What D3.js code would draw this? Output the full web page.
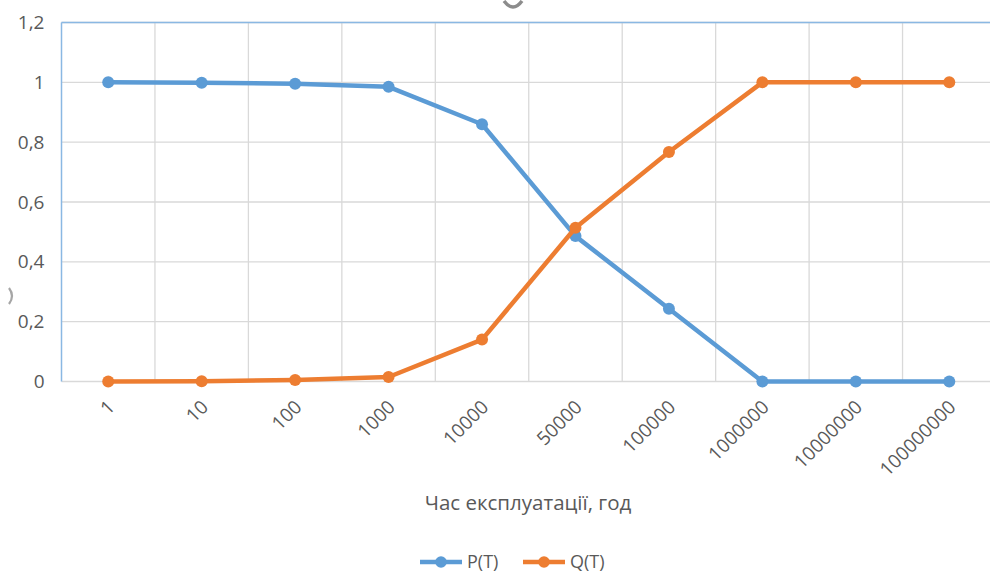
<!DOCTYPE html>
<html>
<head>
<meta charset="utf-8">
<script src="https://cdn.jsdelivr.net/npm/d3@7"></script>
<style>
  html, body { margin: 0; padding: 0; background: #fff; }
  svg { display: block; font-family: "Open Sans", "Liberation Sans", sans-serif; }
</style>
</head>
<body>
<svg id="chart" width="990" height="573"></svg>
<script>
// Operating time categories (hours)
const categories = ["1", "10", "100", "1000", "10000", "50000", "100000", "1000000", "10000000", "100000000"];
// Reliability P(T) and failure probability Q(T)
const pValues = [1.0, 0.999, 0.995, 0.985, 0.86, 0.486, 0.243, 0, 0, 0];
const qValues = [0.0, 0.001, 0.005, 0.015, 0.14, 0.514, 0.767, 1, 1, 1];
const yTicks = [0, 0.2, 0.4, 0.6, 0.8, 1, 1.2];
const seriesNames = ["P(T)", "Q(T)"];
const seriesColors = ["#5B9BD5", "#ED7D31"];
const xTitle = "Час експлуатації, год";

const svg = d3.select("#chart");
const plot = { left: 61.5, right: 996, top: 22.5, bottom: 381.5 };
const textColor = "#595959";

const x = d3.scaleBand().domain(categories).range([plot.left, plot.right]);
const y = d3.scaleLinear().domain([0, 1.2]).range([plot.bottom, plot.top]);

// horizontal gridlines
svg.append("g")
  .selectAll("line").data(yTicks).join("line")
  .attr("x1", plot.left).attr("x2", plot.right)
  .attr("y1", d => y(d)).attr("y2", d => y(d))
  .attr("stroke", "#d9d9d9").attr("stroke-width", 1.3);

// vertical gridlines at category boundaries
svg.append("g")
  .selectAll("line").data(categories.slice(1)).join("line")
  .attr("x1", d => x(d)).attr("x2", d => x(d))
  .attr("y1", plot.top).attr("y2", plot.bottom)
  .attr("stroke", "#d9d9d9").attr("stroke-width", 1.3);

// plot area frame (top and left edges)
svg.append("line")
  .attr("x1", plot.left).attr("x2", plot.right)
  .attr("y1", plot.top).attr("y2", plot.top)
  .attr("stroke", "#8ab8e3").attr("stroke-width", 1.5);
svg.append("line")
  .attr("x1", plot.left).attr("x2", plot.left)
  .attr("y1", plot.top).attr("y2", plot.bottom)
  .attr("stroke", "#8ab8e3").attr("stroke-width", 1.5);

// y axis labels
const fmt = d => d3.format(".1~f")(d).replace(".", ",");
const yAxis = d3.axisLeft(y).tickValues(yTicks).tickFormat(fmt).tickSize(0).tickPadding(17);
const gy = svg.append("g").attr("transform", `translate(${plot.left},0)`).call(yAxis);
gy.select(".domain").remove();
gy.selectAll("text").attr("fill", textColor).attr("font-size", 19)
  .attr("font-family", "'Open Sans', 'Liberation Sans', sans-serif");

// x axis labels, rotated
const xAxis = d3.axisBottom(x).tickSize(0).tickPadding(0);
const gx = svg.append("g").attr("transform", `translate(0,${plot.bottom})`).call(xAxis);
gx.select(".domain").remove();
gx.selectAll("text")
  .attr("fill", textColor).attr("font-size", 19)
  .attr("font-family", "'Open Sans', 'Liberation Sans', sans-serif")
  .attr("text-anchor", "end")
  .attr("dy", "0.35em")
  .attr("transform", "translate(3,22) rotate(-45)");

// series lines and markers
const cx = d => x(d) + x.bandwidth() / 2;
[pValues, qValues].forEach((vals, i) => {
  const pts = categories.map((c, j) => [cx(c), y(vals[j])]);
  svg.append("path")
    .attr("d", d3.line()(pts))
    .attr("fill", "none")
    .attr("stroke", seriesColors[i])
    .attr("stroke-width", 4.5)
    .attr("stroke-linejoin", "round");
  svg.append("g").selectAll("circle").data(pts).join("circle")
    .attr("cx", d => d[0]).attr("cy", d => d[1]).attr("r", 6)
    .attr("fill", seriesColors[i]);
});

// x axis title
svg.append("text")
  .attr("x", 528).attr("y", 510)
  .attr("text-anchor", "middle")
  .attr("fill", textColor).attr("font-size", 20.5)
  .text(xTitle);

// legend
const legend = svg.append("g");
const legendX = [420, 523];
seriesNames.forEach((name, i) => {
  const g = legend.append("g").attr("transform", `translate(${legendX[i]},562)`);
  g.append("line").attr("x1", 0).attr("x2", 42).attr("y1", 0).attr("y2", 0)
    .attr("stroke", seriesColors[i]).attr("stroke-width", 4.5);
  g.append("circle").attr("cx", 21).attr("cy", 0).attr("r", 5.8).attr("fill", seriesColors[i]);
  g.append("text").attr("x", 47).attr("y", 0).attr("dy", "0.34em")
    .attr("fill", textColor).attr("font-size", 18).text(name);
});

// fragments of clipped chart title and axis title at the edges
svg.append("path")
  .attr("d", "M504,1 Q513,13 522,1")
  .attr("fill", "none").attr("stroke", "#8c8c8c").attr("stroke-width", 3.5);
svg.append("path")
  .attr("d", "M9,288 Q15,296 9,304")
  .attr("fill", "none").attr("stroke", "#a6a6a6").attr("stroke-width", 2.2);
</script>
</body>
</html>
